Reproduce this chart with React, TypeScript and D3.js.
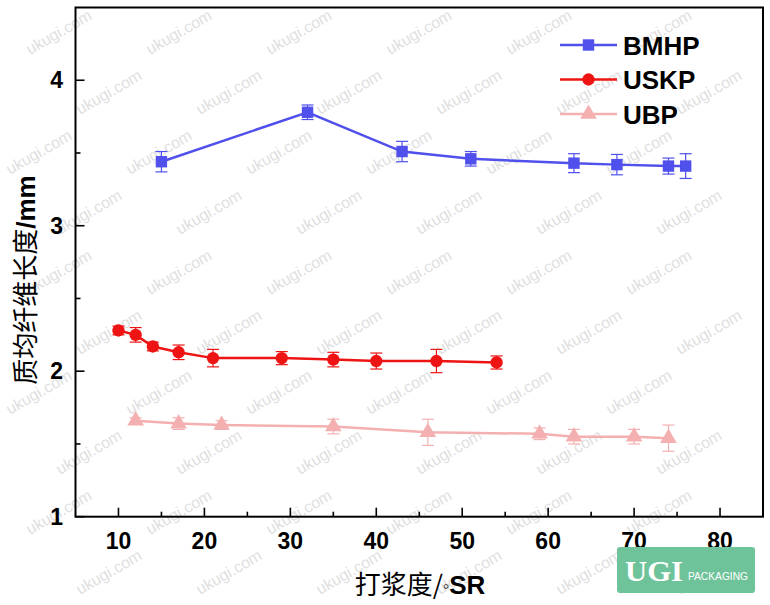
import React from "react";
import * as d3 from "d3";

// Pulp fibre length vs beating degree
const xTicks = [10, 20, 30, 40, 50, 60, 70, 80];
const xMinor = [15, 25, 35, 45, 55, 65, 75];
const yTicks = [1, 2, 3, 4];
const yMinor = [1.5, 2.5, 3.5];

const seriesNames = ["BMHP", "USKP", "UBP"];
const seriesColors = ["#5050ec", "#ee1414", "#f4b0b0"];

const bmhpX = [15, 32, 43, 51, 63, 68, 74, 76];
const bmhpY = [3.44, 3.78, 3.51, 3.46, 3.43, 3.42, 3.41, 3.41];
const bmhpErr = [0.07, 0.05, 0.07, 0.05, 0.065, 0.07, 0.055, 0.085];

const uskpX = [10, 12, 14, 17, 21, 29, 35, 40, 47, 54];
const uskpY = [2.28, 2.25, 2.17, 2.13, 2.09, 2.09, 2.08, 2.07, 2.07, 2.06];
const uskpErr = [0.03, 0.05, 0.03, 0.05, 0.06, 0.045, 0.05, 0.055, 0.08, 0.045];

const ubpX = [12, 17, 22, 35, 46, 59, 63, 70, 74];
const ubpY = [1.66, 1.64, 1.63, 1.62, 1.58, 1.57, 1.55, 1.55, 1.54];
const ubpErr = [0.02, 0.04, 0.03, 0.05, 0.09, 0.04, 0.05, 0.05, 0.09];

const xTitleCn = "打浆度/";
const xTitleUnit = "SR";
const yTitleCn = "质均纤维长度";
const yTitleUnit = "/mm";
const watermark = "ukugi.com";
const badgeMain = "UGI";
const badgeSub = "PACKAGING";

const W = 770;
const H = 605;
const PL = 75.5;
const PR = 763;
const PT = 7.5;
const PB = 516.7;

const sans = "'Liberation Sans', Arial, sans-serif";
const cjk = "'Noto Sans CJK SC', sans-serif";

type Series = { name: string; color: string; xs: number[]; ys: number[]; err: number[]; shape: string };

const series: Series[] = [
  { name: seriesNames[0], color: seriesColors[0], xs: bmhpX, ys: bmhpY, err: bmhpErr, shape: "square" },
  { name: seriesNames[1], color: seriesColors[1], xs: uskpX, ys: uskpY, err: uskpErr, shape: "circle" },
  { name: seriesNames[2], color: seriesColors[2], xs: ubpX, ys: ubpY, err: ubpErr, shape: "triangle" },
];

const symbolFor = (shape: string) =>
  shape === "square" ? d3.symbolSquare : shape === "circle" ? d3.symbolCircle : d3.symbolTriangle;
const sizeFor = (shape: string) => (shape === "square" ? 130 : 120);

function Marker({ shape, color, x, y }: { shape: string; color: string; x: number; y: number }) {
  const path = d3.symbol().type(symbolFor(shape)).size(sizeFor(shape))() || "";
  return <path d={path} transform={`translate(${x},${y})`} fill={color} />;
}

export default function App() {
  const x = d3.scaleLinear().domain([5, 85]).range([PL, PR]);
  const y = d3.scaleLinear().domain([1, 4.5]).range([PB, PT]);
  const line = d3
    .line<[number, number]>()
    .x((d) => x(d[0]))
    .y((d) => y(d[1]));

  // faint diagonal watermark pattern, kept inside the canvas
  const marks: { x: number; y: number }[] = [];
  for (let r = 0; r < 10; r++) {
    for (let c = 0; c < 7; c++) {
      const mx = 30 + c * 120 + (r % 2) * 60 - (r % 4) * 10;
      const my = 55 + r * 60;
      if (mx > 4 && mx + 66 < W - 4 && my - 38 > 2 && my + 4 < H - 2) marks.push({ x: mx, y: my });
    }
  }

  return (
    <svg width={W} height={H} style={{ position: "absolute", left: 0, top: 0, background: "#fff" }}>
      <rect x={0} y={0} width={W} height={H} fill="#fff" />
      <g fill="#e0e0e0" fontFamily={sans} fontSize={16}>
        {marks.map((m, i) => (
          <text key={i} x={m.x} y={m.y} transform={`rotate(-30,${m.x},${m.y})`}>
            {watermark}
          </text>
        ))}
      </g>

      {/* frame */}
      <rect x={PL} y={PT} width={PR - PL} height={PB - PT} fill="none" stroke="#000" strokeWidth={2} />

      {/* ticks, pointing inward */}
      <g stroke="#000" strokeWidth={1.6}>
        {xTicks.map((t) => (
          <line key={"xt" + t} x1={x(t)} x2={x(t)} y1={PB} y2={PB - 9} />
        ))}
        {xMinor.map((t) => (
          <line key={"xm" + t} x1={x(t)} x2={x(t)} y1={PB} y2={PB - 5} />
        ))}
        {yTicks.map((t) => (
          <line key={"yt" + t} x1={PL} x2={PL + 9} y1={y(t)} y2={y(t)} />
        ))}
        {yMinor.map((t) => (
          <line key={"ym" + t} x1={PL} x2={PL + 5} y1={y(t)} y2={y(t)} />
        ))}
      </g>
      <g fontFamily={sans} fontWeight="bold" fontSize={23} fill="#000">
        {xTicks.map((t) => (
          <text key={"xl" + t} x={x(t)} y={549} textAnchor="middle">
            {t}
          </text>
        ))}
        {yTicks.map((t) => (
          <text key={"yl" + t} x={63} y={y(t) + 8} textAnchor="end">
            {t}
          </text>
        ))}
      </g>

      {/* axis titles */}
      <text x={420} y={594} textAnchor="middle" fontSize={26} fill="#000">
        <tspan fontFamily={cjk}>{xTitleCn}</tspan>
        <tspan fontFamily={sans} fontSize={18} dy={-2}>{"\u25E6"}</tspan>
        <tspan fontFamily={sans} fontWeight="bold" dy={2}>{xTitleUnit}</tspan>
      </text>
      <text transform={`translate(35,280) rotate(-90)`} textAnchor="middle" fontSize={26} fill="#000">
        <tspan fontFamily={cjk}>{yTitleCn}</tspan>
        <tspan fontFamily={sans} fontWeight="bold">{yTitleUnit}</tspan>
      </text>

      {/* series: line, error bars, markers */}
      {series.map((s) => {
        const pts: [number, number][] = s.xs.map((v, i) => [v, s.ys[i]]);
        return (
          <g key={s.name}>
            <path d={line(pts) || ""} fill="none" stroke={s.color} strokeWidth={2.5} />
            <g stroke={s.color} strokeWidth={1.2}>
              {pts.map((p, i) => {
                const cx = x(p[0]);
                const y1 = y(p[1] + s.err[i]);
                const y2 = y(p[1] - s.err[i]);
                return (
                  <g key={i}>
                    <line x1={cx} x2={cx} y1={y1} y2={y2} />
                    <line x1={cx - 6} x2={cx + 6} y1={y1} y2={y1} />
                    <line x1={cx - 6} x2={cx + 6} y1={y2} y2={y2} />
                  </g>
                );
              })}
            </g>
            {pts.map((p, i) => (
              <Marker key={i} shape={s.shape} color={s.color} x={x(p[0])} y={y(p[1])} />
            ))}
          </g>
        );
      })}

      {/* legend */}
      {series.map((s, i) => {
        const ly = 45 + i * 34.5;
        return (
          <g key={"lg" + s.name}>
            <line x1={560} x2={617} y1={ly} y2={ly} stroke={s.color} strokeWidth={2.5} />
            <Marker shape={s.shape} color={s.color} x={588.5} y={ly} />
            <text x={623} y={ly + 9.5} fontFamily={sans} fontWeight="bold" fontSize={26} fill="#000">
              {s.name}
            </text>
          </g>
        );
      })}

      {/* badge */}
      <rect x={617} y={547} width={138} height={46} rx={3} fill="#6fc39a" />
      <text
        x={625}
        y={581}
        fontFamily="'Liberation Serif', 'DejaVu Serif', serif"
        fontWeight="bold"
        fontSize={30}
        fill="#fff"
        textLength={58}
        lengthAdjust="spacingAndGlyphs"
      >
        {badgeMain}
      </text>
      <text x={688} y={580} fontFamily={sans} fontSize={10} fill="#fff" textLength={60} lengthAdjust="spacingAndGlyphs">
        {badgeSub}
      </text>
    </svg>
  );
}
